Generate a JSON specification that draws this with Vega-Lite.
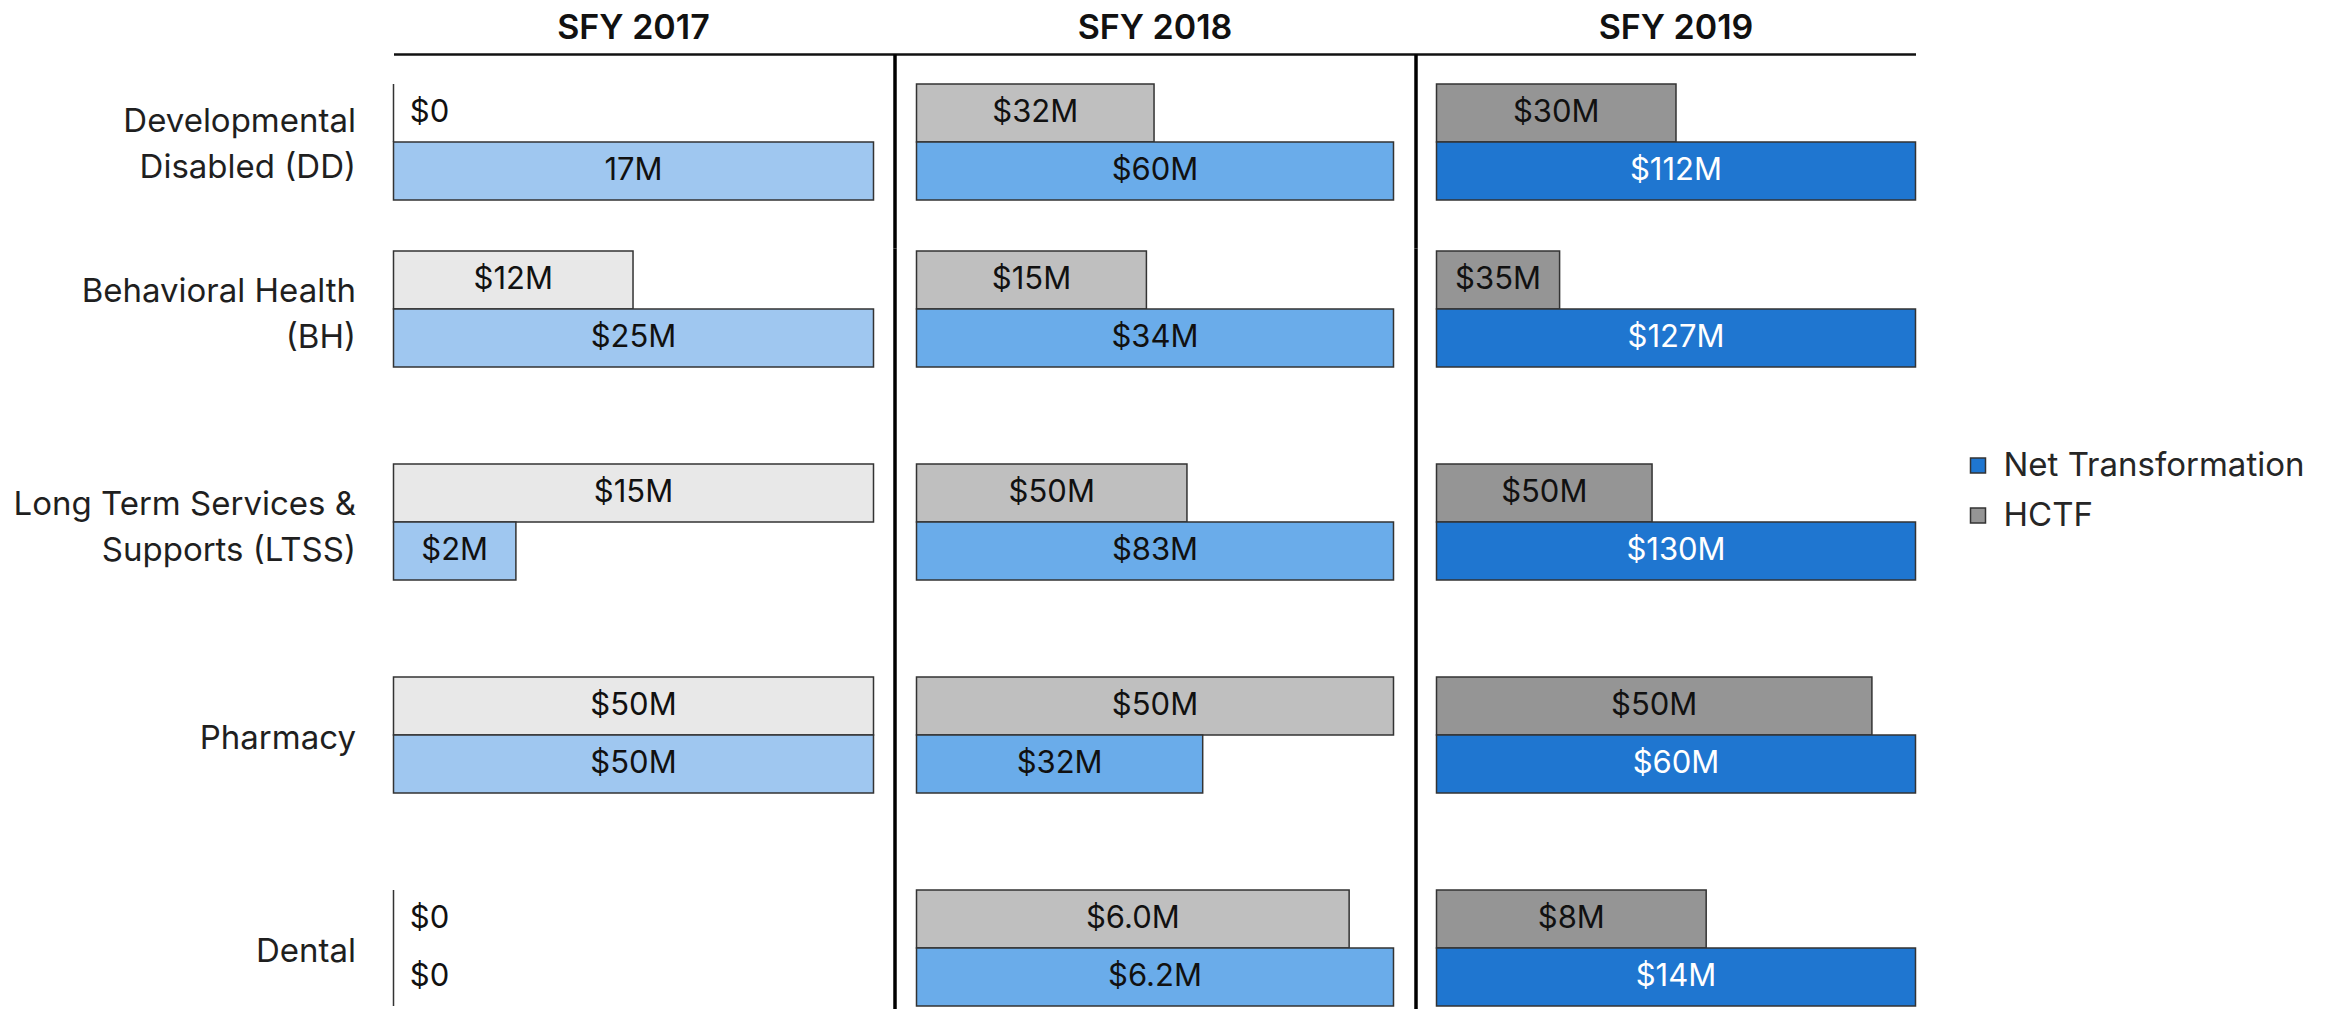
{
  "$schema": "https://vega.github.io/schema/vega-lite/v6.json",
  "padding": {"left": 12.5, "top": 12, "right": 0, "bottom": 0},
  "data": {"values": [
    {"year": "SFY 2017", "program": "Developmental Disabled (DD)", "fund": "HCTF", "label": "$0", "share": 0},
    {"year": "SFY 2017", "program": "Developmental Disabled (DD)", "fund": "Net Transformation", "label": "17M", "share": 1},
    {"year": "SFY 2017", "program": "Behavioral Health (BH)", "fund": "HCTF", "label": "$12M", "share": 0.499},
    {"year": "SFY 2017", "program": "Behavioral Health (BH)", "fund": "Net Transformation", "label": "$25M", "share": 1},
    {"year": "SFY 2017", "program": "Long Term Services & Supports (LTSS)", "fund": "HCTF", "label": "$15M", "share": 1},
    {"year": "SFY 2017", "program": "Long Term Services & Supports (LTSS)", "fund": "Net Transformation", "label": "$2M", "share": 0.255},
    {"year": "SFY 2017", "program": "Pharmacy", "fund": "HCTF", "label": "$50M", "share": 1},
    {"year": "SFY 2017", "program": "Pharmacy", "fund": "Net Transformation", "label": "$50M", "share": 1},
    {"year": "SFY 2017", "program": "Dental", "fund": "HCTF", "label": "$0", "share": 0},
    {"year": "SFY 2017", "program": "Dental", "fund": "Net Transformation", "label": "$0", "share": 0},
    {"year": "SFY 2018", "program": "Developmental Disabled (DD)", "fund": "HCTF", "label": "$32M", "share": 0.498},
    {"year": "SFY 2018", "program": "Developmental Disabled (DD)", "fund": "Net Transformation", "label": "$60M", "share": 1},
    {"year": "SFY 2018", "program": "Behavioral Health (BH)", "fund": "HCTF", "label": "$15M", "share": 0.482},
    {"year": "SFY 2018", "program": "Behavioral Health (BH)", "fund": "Net Transformation", "label": "$34M", "share": 1},
    {"year": "SFY 2018", "program": "Long Term Services & Supports (LTSS)", "fund": "HCTF", "label": "$50M", "share": 0.567},
    {"year": "SFY 2018", "program": "Long Term Services & Supports (LTSS)", "fund": "Net Transformation", "label": "$83M", "share": 1},
    {"year": "SFY 2018", "program": "Pharmacy", "fund": "HCTF", "label": "$50M", "share": 1},
    {"year": "SFY 2018", "program": "Pharmacy", "fund": "Net Transformation", "label": "$32M", "share": 0.6},
    {"year": "SFY 2018", "program": "Dental", "fund": "HCTF", "label": "$6.0M", "share": 0.907},
    {"year": "SFY 2018", "program": "Dental", "fund": "Net Transformation", "label": "$6.2M", "share": 1},
    {"year": "SFY 2019", "program": "Developmental Disabled (DD)", "fund": "HCTF", "label": "$30M", "share": 0.5},
    {"year": "SFY 2019", "program": "Developmental Disabled (DD)", "fund": "Net Transformation", "label": "$112M", "share": 1},
    {"year": "SFY 2019", "program": "Behavioral Health (BH)", "fund": "HCTF", "label": "$35M", "share": 0.257},
    {"year": "SFY 2019", "program": "Behavioral Health (BH)", "fund": "Net Transformation", "label": "$127M", "share": 1},
    {"year": "SFY 2019", "program": "Long Term Services & Supports (LTSS)", "fund": "HCTF", "label": "$50M", "share": 0.45},
    {"year": "SFY 2019", "program": "Long Term Services & Supports (LTSS)", "fund": "Net Transformation", "label": "$130M", "share": 1},
    {"year": "SFY 2019", "program": "Pharmacy", "fund": "HCTF", "label": "$50M", "share": 0.909},
    {"year": "SFY 2019", "program": "Pharmacy", "fund": "Net Transformation", "label": "$60M", "share": 1},
    {"year": "SFY 2019", "program": "Dental", "fund": "HCTF", "label": "$8M", "share": 0.563},
    {"year": "SFY 2019", "program": "Dental", "fund": "Net Transformation", "label": "$14M", "share": 1}
  ]},
  "columns": 3,
  "spacing": 0,
  "bounds": "flush",
  "resolve": {"scale": {"fill": "independent"}},
  "concat": [
    {
      "title": {"text": "SFY 2017", "dx": -10.5},
      "width": 501, "height": 194,
      "transform": [
        {"filter": "datum.year == 'SFY 2017' && datum.program == 'Developmental Disabled (DD)'"},
        {"calculate": "datum.share == 0 ? 0.075 : datum.share / 2", "as": "mid"}
      ],
      "encoding": {
        "y": {"field": "program", "type": "nominal", "scale": {"domain": ["Developmental Disabled (DD)"], "paddingInner": 0, "paddingOuter": 0.3362, "align": 0.3846},
              "axis": {"domain": false, "ticks": false, "tickSize": 0, "title": null, "labelFontSize": 33, "labelColor": "#1f1f1f", "labelPadding": 38, "labelLineHeight": 46, "labelLimit": 600, "labelBaseline": "middle",
                       "labelOffset": -20,
                       "labelExpr": "datum.label == 'Developmental Disabled (DD)' ? ['Developmental', 'Disabled (DD)'] : datum.label"}},
        "yOffset": {"field": "fund", "type": "nominal", "scale": {"domain": ["HCTF", "Net Transformation"], "paddingInner": 0, "paddingOuter": 0}}
      },
      "layer": [
        {"mark": {"type": "bar"},
         "encoding": {
           "x": {"field": "share", "type": "quantitative", "scale": {"domain": [0, 1.04375], "nice": false},
                 "axis": {"orient": "top", "domain": true, "domainColor": "#111111", "domainWidth": 2.5, "labels": false, "ticks": false, "grid": false, "title": null}},
           "fill": {"field": "fund", "type": "nominal", "scale": {"domain": ["HCTF", "Net Transformation"], "range": ["#E8E8E8", "#9FC7F0"]}, "legend": null}
         }},
        {"mark": {"type": "text", "fill": "#111111"},
         "encoding": {"x": {"field": "mid", "type": "quantitative"}, "text": {"field": "label"}}}
      ]
    },
    {
      "title": {"text": "SFY 2018"},
      "width": 521, "height": 194,
      "transform": [
        {"filter": "datum.year == 'SFY 2018' && datum.program == 'Developmental Disabled (DD)'"},
        {"calculate": "datum.share == 0 ? 0.075 : datum.share / 2", "as": "mid"}
      ],
      "encoding": {
        "y": {"field": "program", "type": "nominal", "scale": {"domain": ["Developmental Disabled (DD)"], "paddingInner": 0, "paddingOuter": 0.3362, "align": 0.3846},
              "axis": {"labels": false, "ticks": false, "tickSize": 0, "domain": true, "domainColor": "#000000", "domainWidth": 3.5, "title": null}},
        "yOffset": {"field": "fund", "type": "nominal", "scale": {"domain": ["HCTF", "Net Transformation"], "paddingInner": 0, "paddingOuter": 0}}
      },
      "layer": [
        {"mark": {"type": "bar"},
         "encoding": {
           "x": {"field": "share", "type": "quantitative", "scale": {"domain": [-0.04612, 1.04612], "nice": false},
                 "axis": {"orient": "top", "domain": true, "domainColor": "#111111", "domainWidth": 2.5, "labels": false, "ticks": false, "grid": false, "title": null}},
           "fill": {"field": "fund", "type": "nominal", "scale": {"domain": ["HCTF", "Net Transformation"], "range": ["#BFBFBF", "#6AACEA"]}, "legend": null}
         }},
        {"mark": {"type": "text", "fill": "#111111"},
         "encoding": {"x": {"field": "mid", "type": "quantitative"}, "text": {"field": "label"}}}
      ]
    },
    {
      "title": {"text": "SFY 2019", "dx": 10.5},
      "width": 500, "height": 194,
      "transform": [
        {"filter": "datum.year == 'SFY 2019' && datum.program == 'Developmental Disabled (DD)'"},
        {"calculate": "datum.share == 0 ? 0.075 : datum.share / 2", "as": "mid"}
      ],
      "encoding": {
        "y": {"field": "program", "type": "nominal", "scale": {"domain": ["Developmental Disabled (DD)"], "paddingInner": 0, "paddingOuter": 0.3362, "align": 0.3846},
              "axis": {"labels": false, "ticks": false, "tickSize": 0, "domain": true, "domainColor": "#000000", "domainWidth": 3.5, "title": null}},
        "yOffset": {"field": "fund", "type": "nominal", "scale": {"domain": ["HCTF", "Net Transformation"], "paddingInner": 0, "paddingOuter": 0}}
      },
      "layer": [
        {"mark": {"type": "bar"},
         "encoding": {
           "x": {"field": "share", "type": "quantitative", "scale": {"domain": [-0.04384, 1], "nice": false},
                 "axis": {"orient": "top", "domain": true, "domainColor": "#111111", "domainWidth": 2.5, "labels": false, "ticks": false, "grid": false, "title": null}},
           "fill": {"field": "fund", "type": "nominal", "scale": {"domain": ["HCTF", "Net Transformation"], "range": ["#959595", "#1F76D0"]}, "legend": null}
         }},
        {"mark": {"type": "text"},
         "encoding": {"x": {"field": "mid", "type": "quantitative"}, "text": {"field": "label"},
                      "fill": {"condition": {"test": "datum.fund == 'Net Transformation'", "value": "#FFFFFF"}, "value": "#111111"}}}
      ]
    },
    {
      "width": 501, "height": 761,
      "transform": [
        {"filter": "datum.year == 'SFY 2017' && datum.program != 'Developmental Disabled (DD)'"},
        {"calculate": "datum.share == 0 ? 0.075 : datum.share / 2", "as": "mid"}
      ],
      "encoding": {
        "y": {"field": "program", "type": "nominal", "scale": {"domain": ["Behavioral Health (BH)", "Long Term Services & Supports (LTSS)", "Pharmacy", "Dental"], "paddingInner": 0.4554, "paddingOuter": 0.0141, "align": 0.5},
              "axis": {"domain": false, "ticks": false, "tickSize": 0, "title": null, "labelFontSize": 33, "labelColor": "#1f1f1f", "labelPadding": 38, "labelLineHeight": 46, "labelLimit": 600, "labelBaseline": "middle",
                       "labelOffset": {"condition": {"test": "datum.label == 'Pharmacy' || datum.label == 'Dental'", "value": 4}, "value": -17},
                       "labelExpr": "datum.label == 'Behavioral Health (BH)' ? ['Behavioral Health', '(BH)'] : datum.label == 'Long Term Services & Supports (LTSS)' ? ['Long Term Services &', 'Supports (LTSS)'] : datum.label"}},
        "yOffset": {"field": "fund", "type": "nominal", "scale": {"domain": ["HCTF", "Net Transformation"], "paddingInner": 0, "paddingOuter": 0}}
      },
      "layer": [
        {"mark": {"type": "bar"},
         "encoding": {
           "x": {"field": "share", "type": "quantitative", "scale": {"domain": [0, 1.04375], "nice": false}, "axis": null},
           "fill": {"field": "fund", "type": "nominal", "scale": {"domain": ["HCTF", "Net Transformation"], "range": ["#E8E8E8", "#9FC7F0"]}, "legend": null}
         }},
        {"mark": {"type": "text", "fill": "#111111"},
         "encoding": {"x": {"field": "mid", "type": "quantitative"}, "text": {"field": "label"}}}
      ]
    },
    {
      "width": 521, "height": 761,
      "transform": [
        {"filter": "datum.year == 'SFY 2018' && datum.program != 'Developmental Disabled (DD)'"},
        {"calculate": "datum.share == 0 ? 0.075 : datum.share / 2", "as": "mid"}
      ],
      "encoding": {
        "y": {"field": "program", "type": "nominal", "scale": {"domain": ["Behavioral Health (BH)", "Long Term Services & Supports (LTSS)", "Pharmacy", "Dental"], "paddingInner": 0.4554, "paddingOuter": 0.0141, "align": 0.5},
              "axis": {"labels": false, "ticks": false, "tickSize": 0, "domain": true, "domainColor": "#000000", "domainWidth": 3.5, "title": null}},
        "yOffset": {"field": "fund", "type": "nominal", "scale": {"domain": ["HCTF", "Net Transformation"], "paddingInner": 0, "paddingOuter": 0}}
      },
      "layer": [
        {"mark": {"type": "bar"},
         "encoding": {
           "x": {"field": "share", "type": "quantitative", "scale": {"domain": [-0.04612, 1.04612], "nice": false}, "axis": null},
           "fill": {"field": "fund", "type": "nominal", "scale": {"domain": ["HCTF", "Net Transformation"], "range": ["#BFBFBF", "#6AACEA"]}, "legend": null}
         }},
        {"mark": {"type": "text", "fill": "#111111"},
         "encoding": {"x": {"field": "mid", "type": "quantitative"}, "text": {"field": "label"}}}
      ]
    },
    {
      "width": 500, "height": 761,
      "transform": [
        {"filter": "datum.year == 'SFY 2019' && datum.program != 'Developmental Disabled (DD)'"},
        {"calculate": "datum.share == 0 ? 0.075 : datum.share / 2", "as": "mid"}
      ],
      "encoding": {
        "y": {"field": "program", "type": "nominal", "scale": {"domain": ["Behavioral Health (BH)", "Long Term Services & Supports (LTSS)", "Pharmacy", "Dental"], "paddingInner": 0.4554, "paddingOuter": 0.0141, "align": 0.5},
              "axis": {"labels": false, "ticks": false, "tickSize": 0, "domain": true, "domainColor": "#000000", "domainWidth": 3.5, "title": null}},
        "yOffset": {"field": "fund", "type": "nominal", "scale": {"domain": ["HCTF", "Net Transformation"], "paddingInner": 0, "paddingOuter": 0}}
      },
      "layer": [
        {"mark": {"type": "bar"},
         "encoding": {
           "x": {"field": "share", "type": "quantitative", "scale": {"domain": [-0.04384, 1], "nice": false}, "axis": null},
           "color": {"field": "fund", "type": "nominal", "scale": {"domain": ["Net Transformation", "HCTF"], "range": ["#1F76D0", "#959595"]},
                     "legend": {"title": null, "orient": "none", "legendX": 1568, "legendY": 395, "symbolType": "square", "symbolSize": 225, "symbolStrokeWidth": 0, "symbolOpacity": 1,
                                "labelFontSize": 33, "labelColor": "#262626", "labelOffset": 9, "labelLimit": 500, "rowPadding": 16, "padding": 0}}
         }},
        {"mark": {"type": "text"},
         "encoding": {"x": {"field": "mid", "type": "quantitative"}, "text": {"field": "label"},
                      "fill": {"condition": {"test": "datum.fund == 'Net Transformation'", "value": "#FFFFFF"}, "value": "#111111"}}}
      ]
    }
  ],
  "config": {
    "font": "Inter",
    "view": {"stroke": null},
    "axis": {"grid": false},
    "bar": {"stroke": "#333333", "strokeWidth": 1.5},
    "text": {"fontSize": 31, "baseline": "middle", "align": "center"},
    "title": {"fontSize": 34, "fontWeight": 600, "color": "#111111", "anchor": "middle", "baseline": "alphabetic", "offset": 8}
  }
}
